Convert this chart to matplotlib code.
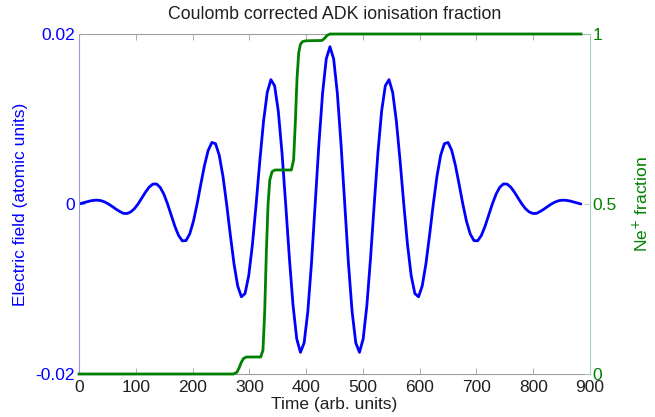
import numpy as np
import matplotlib
matplotlib.use("Agg")
import matplotlib.pyplot as plt

plt.rcParams["font.family"] = ["Liberation Sans", "DejaVu Sans"]

# -----------------------------
# Data
# -----------------------------
# laser field, sampled every 6.5 time units
time = [
    0, 6.5, 13, 19.5, 26, 32.5, 39, 45.5,
    52, 58.5, 65, 71.5, 78, 84.5, 91, 97.5,
    104, 110.5, 117, 123.5, 130, 136.5, 143, 149.5,
    156, 162.5, 169, 175.5, 182, 188.5, 195, 201.5,
    208, 214.5, 221, 227.5, 234, 240.5, 247, 253.5,
    260, 266.5, 273, 279.5, 286, 292.5, 299, 305.5,
    312, 318.5, 325, 331.5, 338, 344.5, 351, 357.5,
    364, 370.5, 377, 383.5, 390, 396.5, 403, 409.5,
    416, 422.5, 429, 435.5, 442, 448.5, 455, 461.5,
    468, 474.5, 481, 487.5, 494, 500.5, 507, 513.5,
    520, 526.5, 533, 539.5, 546, 552.5, 559, 565.5,
    572, 578.5, 585, 591.5, 598, 604.5, 611, 617.5,
    624, 630.5, 637, 643.5, 650, 656.5, 663, 669.5,
    676, 682.5, 689, 695.5, 702, 708.5, 715, 721.5,
    728, 734.5, 741, 747.5, 754, 760.5, 767, 773.5,
    780, 786.5, 793, 799.5, 806, 812.5, 819, 825.5,
    832, 838.5, 845, 851.5, 858, 864.5, 871, 877.5,
    884,
]
field = [
    0, 0.00012, 0.00024, 0.00036, 0.00043, 0.00045, 0.00039, 0.00023,
    0, -0.00029, -0.00060, -0.00087, -0.00110, -0.00112, -0.00094, -0.00056,
    0, 0.00068, 0.00138, 0.00198, 0.00234, 0.00236, 0.00196, 0.00115,
    0, -0.00133, -0.00265, -0.00372, -0.00434, -0.00430, -0.00352, -0.00204,
    0, 0.00231, 0.00454, 0.00630, 0.00724, 0.00709, 0.00574, 0.00328,
    0, -0.00363, -0.00704, -0.00964, -0.01092, -0.01053, -0.00840, -0.00473,
    0, 0.00509, 0.00972, 0.01312, 0.01463, 0.01391, 0.01093, 0.00606,
    0, -0.00634, -0.01194, -0.01587, -0.01745, -0.01634, -0.01266, -0.00692,
    0, 0.00702, 0.01303, 0.01708, 0.01850, 0.01708, 0.01303, 0.00702,
    0, -0.00692, -0.01266, -0.01634, -0.01745, -0.01587, -0.01194, -0.00634,
    0, 0.00606, 0.01093, 0.01391, 0.01463, 0.01312, 0.00972, 0.00509,
    0, -0.00473, -0.00840, -0.01053, -0.01092, -0.00964, -0.00704, -0.00363,
    0, 0.00328, 0.00574, 0.00709, 0.00724, 0.00630, 0.00454, 0.00231,
    0, -0.00204, -0.00352, -0.00430, -0.00434, -0.00372, -0.00265, -0.00133,
    0, 0.00115, 0.00196, 0.00236, 0.00234, 0.00198, 0.00138, 0.00068,
    0, -0.00056, -0.00094, -0.00112, -0.00110, -0.00087, -0.00060, -0.00029,
    0, 0.00023, 0.00039, 0.00045, 0.00043, 0.00036, 0.00024, 0.00012,
    0,
]

# Ne+ fraction (step-wise ionisation)
frac_time = [0, 272, 278, 282, 286, 290, 295, 320, 324, 327, 330, 333, 336,
             340, 345, 374, 378, 381, 384, 387, 390, 394, 400, 428, 433, 437,
             442, 884]
frac = [0, 0, 0.005, 0.018, 0.035, 0.046, 0.05, 0.05, 0.07, 0.18, 0.36, 0.50,
        0.57, 0.595, 0.60, 0.60, 0.63, 0.74, 0.87, 0.945, 0.97, 0.978, 0.98,
        0.981, 0.988, 0.996, 1.0, 1.0]

assert len(time) == len(field)

xticks = [0, 100, 200, 300, 400, 500, 600, 700, 800, 900]
left_ticks = [-0.02, 0, 0.02]
left_labels = ["-0.02", "0", "0.02"]
right_ticks = [0, 0.5, 1]
right_labels = ["0", "0.5", "1"]

BLUE = "#0000ff"
GREEN = "#008000"
GRID_GREY = "#a0a0a0"
FS = 12.5

# -----------------------------
# Plot
# -----------------------------
fig = plt.figure(figsize=(6.55, 4.17), dpi=100)
ax = fig.add_axes([79 / 655, 1 - 374 / 417, (590 - 79) / 655, (374 - 34) / 417])

ax.plot(time, field, color=BLUE, linewidth=2.0,
        solid_joinstyle="round", solid_capstyle="round")
ax.set_xlim(0, 900)
ax.set_ylim(-0.02, 0.02)
ax.set_xticks(xticks)
ax.set_xticklabels([str(t) for t in xticks])
ax.set_yticks(left_ticks)
ax.set_yticklabels(left_labels)

ax.tick_params(axis="x", direction="in", length=4, width=0.6, colors=GRID_GREY,
               labelcolor="#202020", labelsize=FS, top=True, pad=4)
ax.tick_params(axis="y", direction="in", length=4, width=0.6, colors="#9090e0",
               labelcolor=BLUE, labelsize=FS, pad=3)

for side in ["top", "bottom"]:
    ax.spines[side].set_color(GRID_GREY)
    ax.spines[side].set_linewidth(0.8)
ax.spines["left"].set_color("#9a9ae6")
ax.spines["left"].set_linewidth(0.8)
ax.spines["right"].set_visible(False)

ax.set_xlabel("Time (arb. units)", fontsize=FS, color="#202020", labelpad=1.5)
ax.set_ylabel("Electric field (atomic units)", fontsize=FS, color=BLUE, labelpad=5)
ax.set_title("Coulomb corrected ADK ionisation fraction", fontsize=12.8,
             color="#202020", pad=11)

ax2 = ax.twinx()
ax2.plot(frac_time, frac, color=GREEN, linewidth=2.0, clip_on=False,
         solid_joinstyle="round")
ax2.set_ylim(0, 1)
ax2.set_yticks(right_ticks)
ax2.set_yticklabels(right_labels)
ax2.tick_params(axis="y", direction="in", length=4, width=0.6, colors="#a8d0b0",
                labelcolor=GREEN, labelsize=FS, pad=2)
for side in ["top", "bottom", "left"]:
    ax2.spines[side].set_visible(False)
ax2.spines["right"].set_color("#a8d0b8")
ax2.spines["right"].set_linewidth(0.8)
ax2.set_ylabel("Ne$^{+}$ fraction", fontsize=FS, color=GREEN, labelpad=10)

fig.savefig("out.png", dpi=100)
